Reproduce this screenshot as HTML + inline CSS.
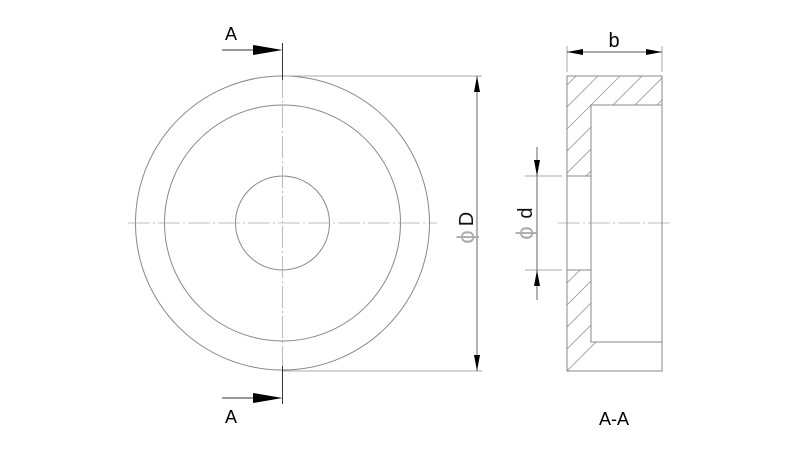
<!DOCTYPE html>
<html><head><style>body{margin:0;background:#fff}svg{display:block}</style></head><body>
<svg width="800" height="450" viewBox="0 0 800 450" xmlns="http://www.w3.org/2000/svg" font-family="Liberation Sans, DejaVu Sans, sans-serif">
<defs>
<clipPath id="hc"><path d="M567,76 H662 V105 H591 V176 H567 Z M567,270 H591 V342 H662 V371 H567 Z"/></clipPath>
</defs>
<g fill="none" stroke="#888" stroke-width="1">
<circle cx="282.5" cy="223" r="147"/>
<circle cx="282.5" cy="223" r="118"/>
<circle cx="282.5" cy="223" r="47"/>
</g>
<g stroke="#aaa" stroke-width="0.8" stroke-dasharray="22,3,2,3">
<line x1="128" y1="223" x2="437" y2="223"/>
<line x1="558" y1="223" x2="672" y2="223"/>
<line x1="282.5" y1="76" x2="282.5" y2="370"/>
</g>
<g stroke="#333" stroke-width="1">
<line x1="282.5" y1="43" x2="282.5" y2="80"/>
<line x1="282.5" y1="366" x2="282.5" y2="404"/>
<line x1="222" y1="50" x2="255" y2="50"/>
<line x1="222" y1="398" x2="255" y2="398"/>
</g>
<path d="M253,45 L282.5,50 L253,55 Z" fill="#000"/>
<path d="M253,393 L282.5,398 L253,403 Z" fill="#000"/>
<text x="231" y="40" font-size="18" text-anchor="middle">A</text>
<text x="231" y="423" font-size="18" text-anchor="middle">A</text>
<g stroke="#aaa" stroke-width="1">
<line x1="283" y1="76" x2="482" y2="76"/>
<line x1="283" y1="371" x2="482" y2="371"/>
</g>
<line x1="477" y1="76" x2="477" y2="371" stroke="#666"/>
<path d="M474,92 L477,76 L480,92 Z M474,355 L477,371 L480,355 Z" fill="#000"/>
<text transform="translate(473,219) rotate(-90)" font-size="20" text-anchor="middle" fill="#111">D</text>
<text transform="translate(474,237) rotate(-90)" font-size="24" text-anchor="middle" fill="#aaa">ϕ</text>
<g clip-path="url(#hc)" stroke="#999" stroke-width="0.8">
<g id="h">
<line x1="450" y1="400" x2="800" y2="50"/>
</g>
<use href="#h" x="-22"/><use href="#h" x="-44"/><use href="#h" x="-66"/><use href="#h" x="-88"/><use href="#h" x="-110"/><use href="#h" x="-132"/><use href="#h" x="-154"/><use href="#h" x="-176"/><use href="#h" x="-198"/><use href="#h" x="-220"/><use href="#h" x="-242"/><use href="#h" x="-264"/><use href="#h" x="-286"/><use href="#h" x="-308"/><use href="#h" x="-330"/><use href="#h" x="22"/><use href="#h" x="44"/><use href="#h" x="66"/><use href="#h" x="88"/>
</g>
<g fill="none" stroke="#888" stroke-width="1">
<rect x="567" y="76" width="95" height="295"/>
<path d="M662,105 H591 V342 H662"/>
<line x1="567" y1="176" x2="591" y2="176"/>
<line x1="567" y1="270" x2="591" y2="270"/>
</g>
<g stroke="#aaa" stroke-width="1">
<line x1="567" y1="46" x2="567" y2="72"/>
<line x1="662" y1="46" x2="662" y2="72"/>
<line x1="525" y1="176" x2="562" y2="176"/>
<line x1="525" y1="270" x2="562" y2="270"/>
</g>
<line x1="567" y1="52" x2="662" y2="52" stroke="#555"/>
<path d="M583,49 L567,52 L583,55 Z M646,49 L662,52 L646,55 Z" fill="#000"/>
<text x="614" y="47" font-size="20" text-anchor="middle">b</text>
<line x1="537" y1="147" x2="537" y2="300" stroke="#666"/>
<path d="M534,160 L537,176 L540,160 Z M534,286 L537,270 L540,286 Z" fill="#000"/>
<text transform="translate(532,213) rotate(-90)" font-size="20" text-anchor="middle" fill="#111">d</text>
<text transform="translate(533,233) rotate(-90)" font-size="24" text-anchor="middle" fill="#aaa">ϕ</text>
<text x="614" y="425" font-size="18" text-anchor="middle">A-A</text>
</svg>
</body></html>
